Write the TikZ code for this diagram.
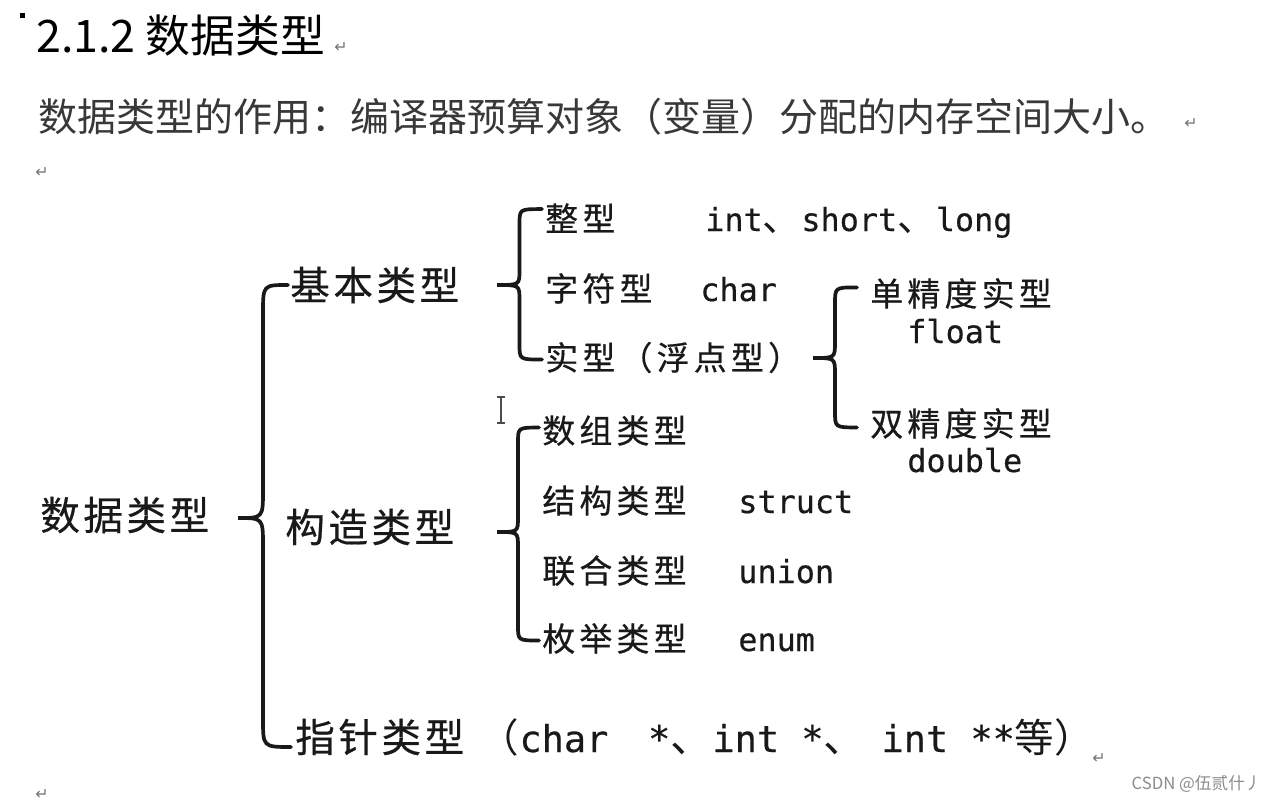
\documentclass[tikz,border=0pt]{standalone}
\usepackage{fontspec}
\setmainfont{Liberation Sans}
\newfontfamily\cjk{Noto Sans CJK SC}
\newfontfamily\cjkone[LetterSpace=9,FakeBold=0.5]{Noto Sans CJK SC}
\newfontfamily\cjktwo[LetterSpace=13,FakeBold=0.5]{Noto Sans CJK SC}
\newfontfamily\mono[FakeBold=0.4]{DejaVu Sans Mono}
\newfontfamily\symb{DejaVu Sans}
\usetikzlibrary{calc}

\definecolor{introgray}{gray}{0.22}
\definecolor{retgray}{gray}{0.45}
\definecolor{markgray}{gray}{0.55}

\newcommand\latin{\mono\fontsize{21}{24}\selectfont}
\newcommand\dun[1]{{\cjk\fontsize{#1}{#1}\selectfont 、}}

% brace: tip, top end, bottom end, curl radius
\newcommand\typebrace[4]{%
  \path (#1) -- (#2 |- #1) coordinate[pos=0.5] (bv);
  \draw[brace] (#2) .. controls (bv |- #2) .. ($(bv |- #2)+(0,#4)$)
    -- ($(bv |- #1)-(0,#4)$) .. controls (bv |- #1) .. (#1)
    .. controls (bv |- #1) .. ($(bv |- #1)+(0,#4)$)
    -- ($(bv |- #3)-(0,#4)$) .. controls (bv |- #3) .. (#3);
}

\tikzset{
  title/.style={anchor=base west, inner sep=0pt, font=\cjk\fontsize{25.5}{28}\selectfont},
  intro/.style={anchor=base west, inner sep=0pt, text=introgray, font=\cjk\fontsize{22.2}{24}\selectfont},
  lvone/.style={anchor=base west, inner sep=0pt, text=black!90, font=\cjkone\fontsize{22.5}{26}\selectfont},
  lvtwo/.style={anchor=base west, inner sep=0pt, text=black!90, font=\cjktwo\fontsize{18.7}{22}\selectfont},
  keyword/.style={anchor=base west, inner sep=0pt, text=black!90, font=\mono\fontsize{18.1}{20}\selectfont},
  retmark/.style={anchor=base west, inner sep=0pt, text=retgray, font=\symb\fontsize{9}{10}\selectfont},
  brace/.style={line width=2.1pt, line cap=round, black!90},
}

\begin{document}
\begin{tikzpicture}[x=0.02cm, y=-0.02cm]
    % Hintergrund
    \fill[white] (0,0) rectangle (1270,802);
    \useasboundingbox (0,0) rectangle (1270,802);

    % Ueberschrift
    \fill[black] (20,13) rectangle (25,18);
    \node[title] (heading) at (36,52) {2.1.2 数据类型};
    \node[intro] (intro) at (38,131) {数据类型的作用：编译器预算对象（变量）分配的内存空间大小。};

    % Absatzmarken
    \node[retmark] (ret1) at (334,52) {↵};
    \node[retmark] (ret2) at (1184,128) {↵};
    \node[retmark] (ret3) at (35,177) {↵};
    \node[retmark] (ret4) at (1092,763) {↵};
    \node[retmark] (ret5) at (35,799) {↵};

    % Ebene 1
    \node[lvone] (root) at (40,530) {数据类型};
    \node[lvone] (basic) at (290,300) {基本类型};
    \node[lvone] (construct) at (285,542) {构造类型};
    \node[lvone] (pointer) at (295,752) {指针类型\hspace{9pt}{\cjk（}{\latin char~\hspace{10pt}*}\dun{24}{\latin int~*}\dun{24}{\latin\hspace{9pt}int~**}{\cjk 等）}};

    % Ebene 2
    \node[lvtwo] (integer) at (545,231) {整型};
    \node[lvtwo] (character) at (545,301) {字符型};
    \node[lvtwo] (real) at (545,370) {实型（浮点型）};
    \node[lvtwo] (array) at (542,443) {数组类型};
    \node[lvtwo] (struct) at (542,513) {结构类型};
    \node[lvtwo] (union) at (542,583) {联合类型};
    \node[lvtwo] (enum) at (542,651) {枚举类型};

    % Ebene 3
    \node[lvtwo] (single) at (870,306) {单精度实型};
    \node[lvtwo] (double) at (870,436) {双精度实型};

    % Schluesselwoerter
    \node[keyword] (kwint) at (705,231) {int\dun{22}short\dun{22}long};
    \node[keyword] (kwchar) at (700,301) {char};
    \node[keyword] (kwfloat) at (907,343) {float};
    \node[keyword] (kwdouble) at (907,472) {double};
    \node[keyword] (kwstruct) at (738,513) {struct};
    \node[keyword] (kwunion) at (738,583) {union};
    \node[keyword] (kwenum) at (738,651) {enum};

    % Klammern
    \coordinate (tipRoot) at (238,518);
    \coordinate (tipBasic) at (497,285);
    \coordinate (tipReal) at (813,358);
    \coordinate (tipConstruct) at (497,532);
    \coordinate (topRoot) at ($(basic.west)+(-2,0)$);
    \coordinate (botRoot) at ($(pointer.west)+(-4,10)$);
    \coordinate (topBasic) at ($(integer.west)+(-3,-9)$);
    \coordinate (botBasic) at ($(real.west)+(-3,2)$);
    \coordinate (topReal) at ($(single.west)+(-13,-6)$);
    \coordinate (botReal) at ($(double.west)+(-13,4)$);
    \coordinate (topConstruct) at ($(array.west)+(-3,-3)$);
    \coordinate (botConstruct) at ($(enum.west)+(-3,2)$);
    \typebrace{tipRoot}{topRoot}{botRoot}{28}
    \typebrace{tipBasic}{topBasic}{botBasic}{15}
    \typebrace{tipReal}{topReal}{botReal}{16}
    \typebrace{tipConstruct}{topConstruct}{botConstruct}{15}

    % Cursor
    \draw[black!70, line width=0.8pt] (501,397) -- (501,423) (497,397) -- (505,397) (497,423) -- (505,423);

    % Wasserzeichen
    \node[anchor=base east, inner sep=0pt, text=markgray, font=\cjk\fontsize{9.5}{11}\selectfont] (mark) at (1262,789) {CSDN @伍贰什丿};
\end{tikzpicture}
\end{document}
